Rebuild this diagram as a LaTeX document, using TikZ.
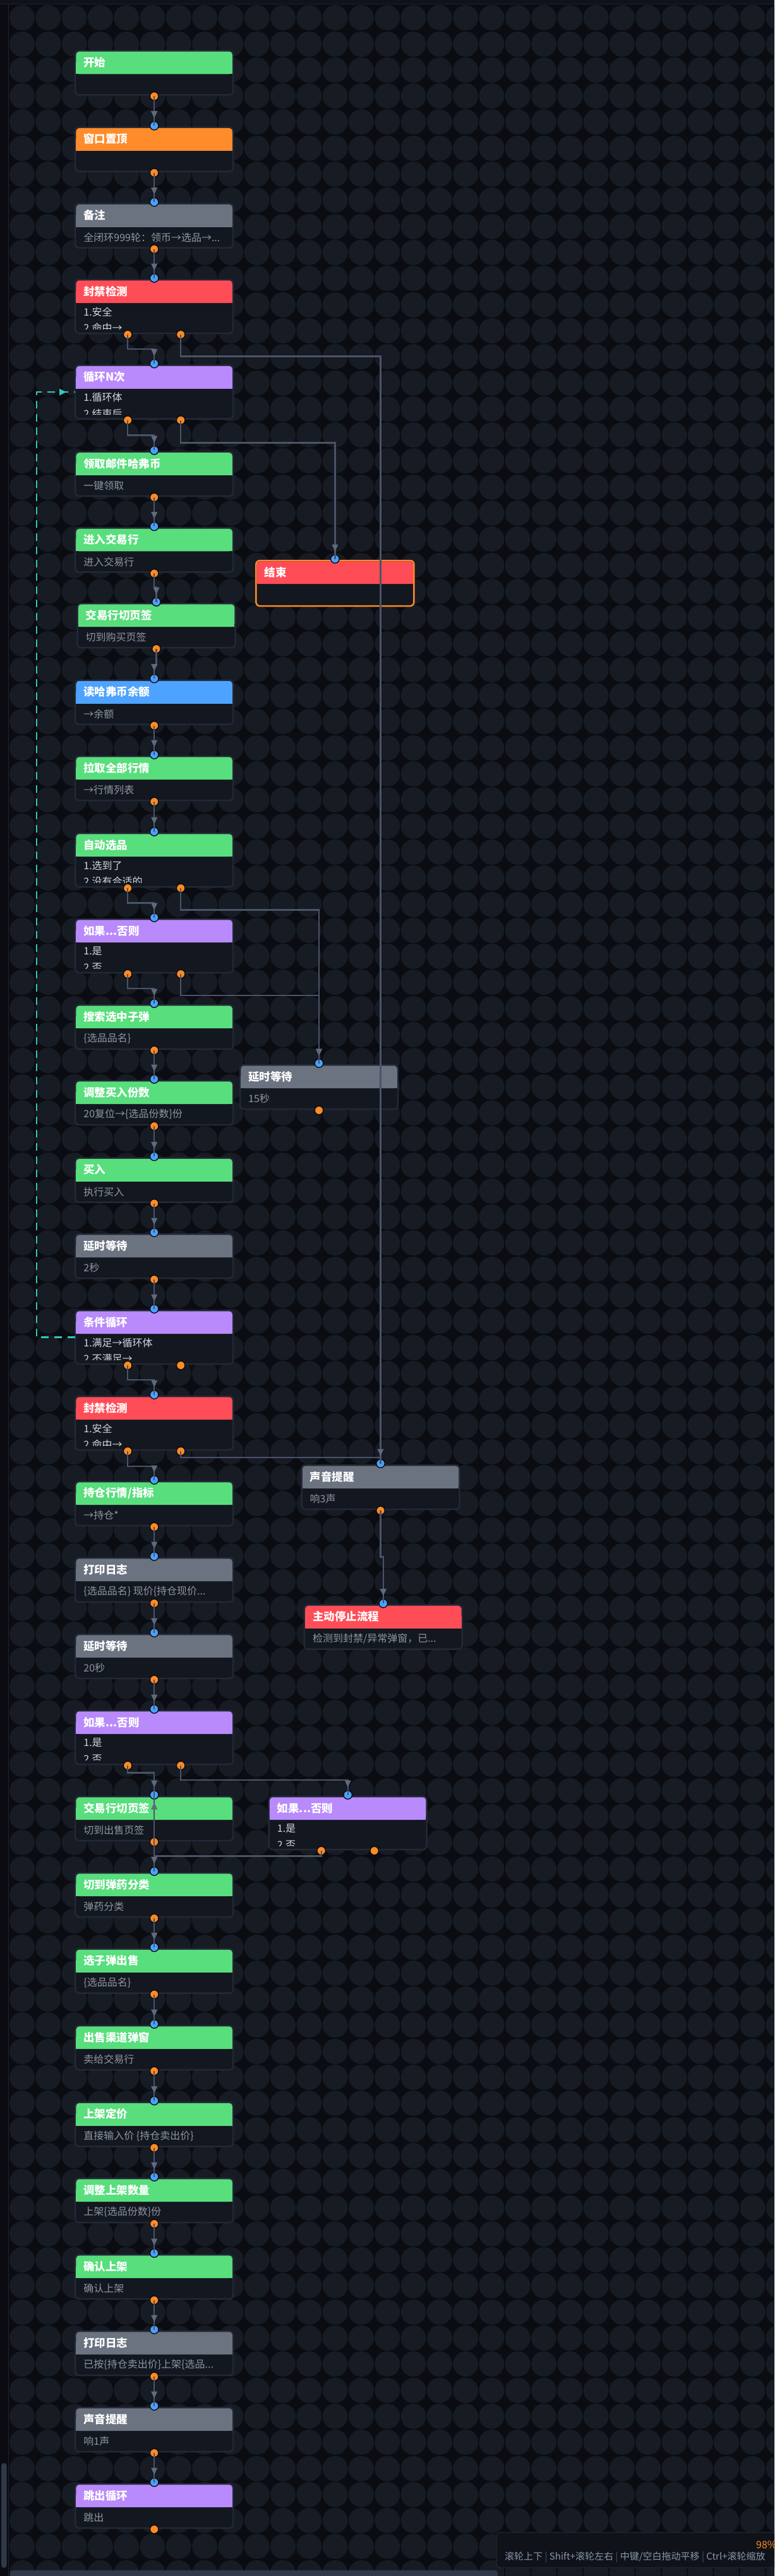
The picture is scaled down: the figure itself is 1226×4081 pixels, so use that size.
\documentclass[tikz,border=0pt]{standalone}
\usepackage{fontspec}
\setmainfont{Noto Sans CJK SC}
\usetikzlibrary{calc,arrows.meta,decorations.markings}
\definecolor{pagebg}{HTML}{0A0C11}
\definecolor{circc}{HTML}{171B24}
\definecolor{topband}{HTML}{0F121A}
\definecolor{frameline}{HTML}{1D2230}
\definecolor{boxline}{HTML}{232836}
\definecolor{boxfill}{HTML}{131720}
\definecolor{hgreen}{HTML}{58DE7C}
\definecolor{horange}{HTML}{FF8C2B}
\definecolor{hgray}{HTML}{6B7280}
\definecolor{hred}{HTML}{FF4D57}
\definecolor{hpurple}{HTML}{B98AFB}
\definecolor{hblue}{HTML}{4DA3FF}
\definecolor{bodygray}{HTML}{8F96A3}
\definecolor{itemwhite}{HTML}{D2D6DD}
\definecolor{portblue}{HTML}{4AA0FF}
\definecolor{portorange}{HTML}{FF8A24}
\definecolor{portline}{HTML}{07090C}
\definecolor{edgec}{HTML}{4A5468}
\definecolor{arrowc}{HTML}{5F6A7D}
\definecolor{loopc}{HTML}{34C6BB}
\definecolor{barc}{HTML}{303849}
\definecolor{panelfill}{HTML}{0F1218}
\definecolor{statustext}{HTML}{8A97AD}
\definecolor{sepc}{HTML}{4A5366}
\tikzset{
  nodebox/.style={rectangle, draw=boxline, fill=boxfill, line width=2.5pt, rounded corners=6pt,
    outer sep=0pt, inner sep=0pt, minimum width=250pt},
  endbox/.style={draw=portorange},
  titletext/.style={text=white, font=\fontsize{17.5pt}{20pt}\selectfont\bfseries, inner sep=0pt, anchor=west},
  bodytext/.style={text=bodygray, font=\fontsize{16pt}{19pt}\selectfont, inner sep=0pt, anchor=west},
  itemtext/.style={text=itemwhite, font=\fontsize{16pt}{19pt}\selectfont, inner sep=0pt, anchor=west},
  iport/.style={circle, fill=portblue, draw=portline, line width=1.3pt, minimum size=13.5pt, inner sep=0pt},
  oport/.style={circle, fill=portorange, draw=portline, line width=1.3pt, minimum size=13.5pt, inner sep=0pt},
  flowedge/.style={draw=edgec, line width=2.4pt, postaction={decorate},
    decoration={markings, mark=at position -12pt with {\arrow{Triangle[width=9.5pt,length=11pt,color=arrowc]}}}},
  plainedge/.style={draw=edgec, line width=2.4pt},
  loopedge/.style={draw=loopc, line width=2.2pt, dash pattern=on 12pt off 9pt, postaction={decorate},
    decoration={markings, mark=at position -14pt with {\arrow{Triangle[width=10pt,length=11pt,color=loopc]}}}},
  dotrow/.style={draw=circc, line width=40pt, line cap=round},
}
% #1 extra style, #2 name, #3 left, #4 top, #5 height, #6 header colour, #7 title
\newcommand\flowbox[7]{%
  \node[nodebox,#1,minimum height=#5pt,anchor=north west] (#2) at (#3,#4) {};
  \fill[#6,rounded corners=5pt] ($(#2.north west)+(1.25,1.25)$) rectangle ($(#2.north east)+(-1.25,37)$);
  \fill[#6] ($(#2.north west)+(1.25,18)$) rectangle ($(#2.north east)+(-1.25,37)$);
  \node[titletext] (#2-t) at ($(#2.north west)+(13,18.5)$) {#7};
}
\newcommand\oneline[2]{\node[bodytext] (#1-b) at ($(#1.north west)+(13,53.5)$) {#2};}
\newcommand\twoline[3]{%
  \begin{scope}
    \clip ($(#1.north west)+(0,38)$) rectangle ($(#1.north east)+(0,78)$);
    \node[itemtext] (#1-b1) at ($(#1.north west)+(13,51)$) {#2};
    \node[itemtext] (#1-b2) at ($(#1.north west)+(13,76.5)$) {#3};
  \end{scope}}
\newcommand\inport[1]{\node[iport] (#1-i) at ($(#1.north)+(0,-2.5)$) {};}
\newcommand\outport[1]{\node[oport] (#1-o) at ($(#1.south)+(0,2)$) {};}
\newcommand\outports[1]{%
  \node[oport] (#1-o1) at ($(#1.south)+(-42,2)$) {};
  \node[oport] (#1-o2) at ($(#1.south)+(42,2)$) {};}

\begin{document}
\begin{tikzpicture}[x=1pt,y=-1pt]
\useasboundingbox (0,0) rectangle (1226,4081);
\begin{scope}
\clip (0,0) rectangle (1226,4081);
\fill[pagebg] (0,0) rectangle (1226,4081);
\begin{scope}
  \clip (13.5,7) rectangle (1226,4081);
  \foreach \j in {0,...,98}{
    \pgfmathsetmacro\yy{28.3+41.3*\j}
    \draw[dotrow] \foreach \i in {0,...,29}{ ({35+41.3*\i},\yy) -- ++(0.02,0) };
  }
\end{scope}
\fill[topband] (0,0) rectangle (1226,6);
\draw[frameline, line width=1pt] (0,6.5) -- (1226,6.5);
\fill[pagebg] (0,7) rectangle (13,4081);
\draw[frameline, line width=1pt] (13,7) -- (13,4081);

% ---------- left column ----------
\flowbox{}{n1}{119.2}{80.4}{70}{hgreen}{开始}
\flowbox{}{n2}{119.2}{201.7}{70}{horange}{窗口置顶}
\flowbox{}{n3}{119.2}{322.6}{70}{hgray}{备注}
\oneline{n3}{全闭环999轮：领币→选品→...}
\flowbox{}{n4}{119.2}{443}{85}{hred}{封禁检测}
\twoline{n4}{1.安全}{2.命中→}
\flowbox{}{n5}{119.2}{578.6}{85}{hpurple}{循环N次}
\twoline{n5}{1.循环体}{2.结束后}
\flowbox{}{n6}{119.2}{715.9}{70}{hgreen}{领取邮件哈弗币}
\oneline{n6}{一键领取}
\flowbox{}{n7}{119.2}{836.4}{70}{hgreen}{进入交易行}
\oneline{n7}{进入交易行}
\flowbox{}{n8}{122.5}{956}{70}{hgreen}{交易行切页签}
\oneline{n8}{切到购买页签}
\flowbox{}{n9}{119.2}{1077.5}{70}{hblue}{读哈弗币余额}
\oneline{n9}{→余额}
\flowbox{}{n10}{119.2}{1198}{70}{hgreen}{拉取全部行情}
\oneline{n10}{→行情列表}
\flowbox{}{n11}{119.2}{1320}{85}{hgreen}{自动选品}
\twoline{n11}{1.选到了}{2.没有合适的}
\flowbox{}{n12}{119.2}{1456}{85}{hpurple}{如果...否则}
\twoline{n12}{1.是}{2.否}
\flowbox{}{n13}{119.2}{1592}{70}{hgreen}{搜索选中子弹}
\oneline{n13}{\{选品品名\}}
\flowbox{}{n14}{119.2}{1712}{70}{hgreen}{调整买入份数}
\oneline{n14}{20复位→\{选品份数\}份}
\flowbox{}{n15}{119.2}{1834.5}{70}{hgreen}{买入}
\oneline{n15}{执行买入}
\flowbox{}{n16}{119.2}{1955}{70}{hgray}{延时等待}
\oneline{n16}{2秒}
\flowbox{}{n17}{119.2}{2076}{85}{hpurple}{条件循环}
\twoline{n17}{1.满足→循环体}{2.不满足→}
\flowbox{}{n18}{119.2}{2212}{85}{hred}{封禁检测}
\twoline{n18}{1.安全}{2.命中→}
\flowbox{}{n19}{119.2}{2347}{70}{hgreen}{持仓行情/指标}
\oneline{n19}{→持仓*}
\flowbox{}{n20}{119.2}{2468}{70}{hgray}{打印日志}
\oneline{n20}{\{选品品名\} 现价\{持仓现价...}
\flowbox{}{n21}{119.2}{2589}{70}{hgray}{延时等待}
\oneline{n21}{20秒}
\flowbox{}{n22}{119.2}{2710}{85}{hpurple}{如果...否则}
\twoline{n22}{1.是}{2.否}
\flowbox{}{n23}{119.2}{2846}{70}{hgreen}{交易行切页签}
\oneline{n23}{切到出售页签}
\flowbox{}{n24}{119.2}{2967}{70}{hgreen}{切到弹药分类}
\oneline{n24}{弹药分类}
\flowbox{}{n25}{119.2}{3087.5}{70}{hgreen}{选子弹出售}
\oneline{n25}{\{选品品名\}}
\flowbox{}{n26}{119.2}{3209}{70}{hgreen}{出售渠道弹窗}
\oneline{n26}{卖给交易行}
\flowbox{}{n27}{119.2}{3330.5}{70}{hgreen}{上架定价}
\oneline{n27}{直接输入价 \{持仓卖出价\}}
\flowbox{}{n28}{119.2}{3451}{70}{hgreen}{调整上架数量}
\oneline{n28}{上架\{选品份数\}份}
\flowbox{}{n29}{119.2}{3572}{70}{hgreen}{确认上架}
\oneline{n29}{确认上架}
\flowbox{}{n30}{119.2}{3693}{70}{hgray}{打印日志}
\oneline{n30}{已按\{持仓卖出价\}上架\{选品...}
\flowbox{}{n31}{119.2}{3814}{70}{hgray}{声音提醒}
\oneline{n31}{响1声}
\flowbox{}{n32}{119.2}{3935}{70}{hpurple}{跳出循环}
\oneline{n32}{跳出}

% ---------- right side ----------
\flowbox{endbox}{r1}{405.4}{888}{72}{hred}{结束}
\flowbox{}{r2}{380}{1687}{70}{hgray}{延时等待}
\oneline{r2}{15秒}
\flowbox{}{r3}{477.5}{2321}{70}{hgray}{声音提醒}
\oneline{r3}{响3声}
\flowbox{}{r4}{481.8}{2542.7}{70}{hred}{主动停止流程}
\oneline{r4}{检测到封禁/异常弹窗，已...}
\flowbox{}{r5}{425.7}{2846}{84}{hpurple}{如果...否则}
\twoline{r5}{1.是}{2.否}

% ---------- ports ----------
\outport{n1}
\foreach \k in {2,3,6,7,8,9,10,13,14,15,16,19,20,21,23,24,25,26,27,28,29,30,31,32}{\inport{n\k}\outport{n\k}}
\foreach \k in {4,5,11,12,17,18,22}{\inport{n\k}\outports{n\k}}
\inport{r1}
\inport{r2}\outport{r2}
\inport{r3}\outport{r3}
\inport{r4}
\inport{r5}\outports{r5}

% ---------- connectors ----------
\draw[flowedge] (n1-o.center) -- (n2-i.center);
\draw[flowedge] (n2-o.center) -- (n3-i.center);
\draw[flowedge] (n3-o.center) -- (n4-i.center);
\draw[flowedge] (n4-o1.center) -- ++(0,23) -| (n5-i.center);
\draw[flowedge] (n4-o2.center) -- ++(0,34.5) -| (r3-i.center);
\draw[flowedge] (n5-o1.center) -- ++(0,24) -| (n6-i.center);
\draw[flowedge] (n5-o2.center) -- ++(0,36) -| (r1-i.center);
\draw[flowedge] (n6-o.center) -- (n7-i.center);
\draw[flowedge] (n7-o.center) -- ++(0,22) -| (n8-i.center);
\draw[flowedge] (n8-o.center) -- ++(0,26) -| (n9-i.center);
\draw[flowedge] (n9-o.center) -- (n10-i.center);
\draw[flowedge] (n10-o.center) -- (n11-i.center);
\draw[flowedge] (n11-o1.center) -- ++(0,23.5) -| (n12-i.center);
\draw[flowedge] (n11-o2.center) -- ++(0,34.5) -| (r2-i.center);
\draw[flowedge] (n12-o1.center) -- ++(0,23) -| (n13-i.center);
\draw[flowedge] (n12-o2.center) -- ++(0,34) -| (r2-i.center);
\draw[flowedge] (n13-o.center) -- (n14-i.center);
\draw[flowedge] (n14-o.center) -- (n15-i.center);
\draw[flowedge] (n15-o.center) -- (n16-i.center);
\draw[flowedge] (n16-o.center) -- (n17-i.center);
\draw[flowedge] (n17-o1.center) -- ++(0,23) -| (n18-i.center);
\draw[loopedge] (n17.west) -- ++(-61,0) |- (n5.west);
\draw[flowedge] (n18-o1.center) -- ++(0,24) -| (n19-i.center);
\draw[plainedge] (n18-o2.center) -- ++(0,10) -| (r3-i.center);
\draw[flowedge] (n19-o.center) -- (n20-i.center);
\draw[flowedge] (n20-o.center) -- (n21-i.center);
\draw[flowedge] (n21-o.center) -- (n22-i.center);
\draw[flowedge] (n22-o1.center) -- ++(0,11.5) -| (n23-i.center);
\draw[flowedge] (n22-o2.center) -- ++(0,23) -| (r5-i.center);
\draw[flowedge] (r5-o1.center) -- ++(0,8.5) -| (n23-i.center);
\draw[flowedge] (n23-o.center) -- (n24-i.center);
\draw[flowedge] (n24-o.center) -- (n25-i.center);
\draw[flowedge] (n25-o.center) -- (n26-i.center);
\draw[flowedge] (n26-o.center) -- (n27-i.center);
\draw[flowedge] (n27-o.center) -- (n28-i.center);
\draw[flowedge] (n28-o.center) -- (n29-i.center);
\draw[flowedge] (n29-o.center) -- (n30-i.center);
\draw[flowedge] (n30-o.center) -- (n31-i.center);
\draw[flowedge] (n31-o.center) -- (n32-i.center);
\draw[flowedge] (r3-o.center) -- ++(0,73.5) -| (r4-i.center);

% ---------- viewport chrome ----------
\fill[barc, rounded corners=4pt] (2,3902) rectangle (10.5,4068);
\fill[barc, rounded corners=4.5pt] (15.6,4072) rectangle (788,4090);
\draw[boxline, fill=panelfill, line width=1.2pt, rounded corners=6pt] (786,4012) rectangle (1250,4068);
\node[inner sep=0pt, anchor=west, text=portorange, font=\fontsize{16pt}{19pt}\selectfont] (zoomlbl) at (1197,4032) {98\%};
\node[inner sep=0pt, anchor=west, text=statustext, font=\fontsize{15pt}{18pt}\selectfont] (hint) at (799,4051)
  {滚轮上下 {\color{sepc}|} Shift+滚轮左右 {\color{sepc}|} 中键/空白拖动平移 {\color{sepc}|} Ctrl+滚轮缩放};
\end{scope}
\end{tikzpicture}
\end{document}
